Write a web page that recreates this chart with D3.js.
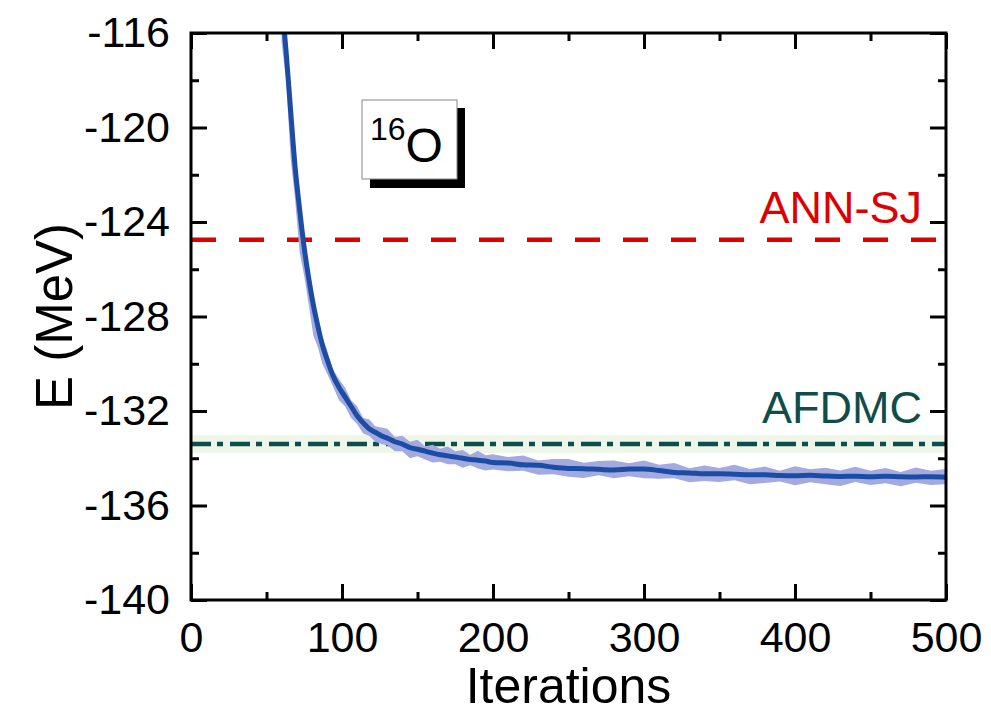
<!DOCTYPE html>
<html>
<head>
<meta charset="utf-8">
<script src="https://cdn.jsdelivr.net/npm/d3@7"></script>
<style>
  body { margin: 0; background: #fff; }
  svg { font-family: "Liberation Sans", Arial, sans-serif; }
  .ax .domain { display: none; }
  .ax line { stroke: #000; stroke-width: 3; }
  .ax text { font-size: 43px; fill: #000; }
</style>
</head>
<body>
<svg id="chart" width="991" height="713"></svg>
<script>
// iterations
var iters = [60, 63, 66, 69, 72, 75, 78, 81, 84, 87,
  90, 94, 98, 102, 106, 110, 114, 118, 122, 126,
  130, 135, 140, 145, 150, 155, 160, 165, 170, 175,
  180, 185, 190, 195, 200,
  210, 220, 230, 240, 250, 260, 270, 280, 290, 300,
  310, 320, 330, 340, 350, 360, 370, 380, 390, 400,
  410, 420, 430, 440, 450, 460, 470, 480, 490, 500];

// energy (MeV)
var energy = [-114.6, -116.8, -119.3, -121.7, -123.5, -125.1, -126.4, -127.5, -128.4, -129.2,
  -129.8, -130.5, -131.0, -131.4, -131.8, -132.2, -132.5, -132.75, -132.9, -133.05,
  -133.15, -133.3, -133.4, -133.55, -133.62, -133.7, -133.78, -133.85, -133.9, -133.95,
  -134.0, -134.05, -134.08, -134.12, -134.18,
  -134.2, -134.28, -134.3, -134.38, -134.43, -134.44, -134.47, -134.5, -134.46, -134.45,
  -134.52, -134.6, -134.62, -134.66, -134.66, -134.68, -134.7, -134.7, -134.73, -134.74,
  -134.72, -134.75, -134.77, -134.76, -134.78, -134.76, -134.78, -134.79, -134.78, -134.8];

// spread of the light band above / below the curve
var bandUp = [0.4, 0.25, 0.45, 0.25, 0.4, 0.3, 0.25, 0.4, 0.25, 0.3,
  0.4, 0.25, 0.35, 0.4, 0.25, 0.4, 0.2, 0.4, 0.25, 0.35,
  0.4, 0.2, 0.35, 0.25, 0.4, 0.2, 0.35, 0.25, 0.4, 0.25,
  0.35, 0.2, 0.4, 0.25, 0.35,
  0.25, 0.4, 0.2, 0.35, 0.4, 0.25, 0.35, 0.4, 0.25, 0.35,
  0.25, 0.4, 0.2, 0.35, 0.25, 0.4, 0.25, 0.35, 0.2, 0.4,
  0.25, 0.35, 0.25, 0.4, 0.25, 0.35, 0.2, 0.4, 0.25, 0.35];
var bandDn = [1.8, 1.2, 2.0, 1.4, 1.8, 1.2, 1.1, 1.3, 0.9, 0.8,
  0.6, 0.45, 0.55, 0.4, 0.5, 0.35, 0.45, 0.3, 0.4, 0.35,
  0.3, 0.4, 0.3, 0.45, 0.3, 0.35, 0.4, 0.3, 0.35, 0.3,
  0.4, 0.25, 0.35, 0.4, 0.3,
  0.35, 0.25, 0.4, 0.3, 0.35, 0.4, 0.25, 0.35, 0.3, 0.4,
  0.35, 0.25, 0.4, 0.3, 0.35, 0.25, 0.4, 0.35, 0.25, 0.4,
  0.3, 0.35, 0.4, 0.25, 0.35, 0.3, 0.4, 0.25, 0.35, 0.3];

// reference values
var annSJ = -124.75;
var afdmc = -133.4, afdmcErr = 0.38;

var xTicks = [0, 100, 200, 300, 400, 500];
var xMinor = [50, 150, 250, 350, 450];
var yTicks = [-140, -136, -132, -128, -124, -120, -116];
var yMinor = [-138, -134, -130, -126, -122, -118];

var L = 191, R = 946, T = 33, B = 600;
var svg = d3.select('#chart');

var x = d3.scaleLinear().domain([0, 500]).range([L, R]);
var y = d3.scaleLinear().domain([-140, -116]).range([B, T]);

svg.append('clipPath').attr('id', 'clip')
  .append('rect').attr('x', L).attr('y', T).attr('width', R - L).attr('height', B - T);

var plot = svg.append('g').attr('clip-path', 'url(#clip)');

// AFDMC error band
plot.append('rect')
  .attr('x', L).attr('width', R - L)
  .attr('y', y(afdmc + afdmcErr))
  .attr('height', y(afdmc - afdmcErr) - y(afdmc + afdmcErr))
  .attr('fill', '#eef6ea');

plot.append('line')
  .attr('x1', L).attr('x2', R)
  .attr('y1', y(annSJ)).attr('y2', y(annSJ))
  .attr('stroke', '#dd0000').attr('stroke-width', 4.5)
  .attr('stroke-dasharray', '25,23');

plot.append('line')
  .attr('x1', L).attr('x2', R)
  .attr('y1', y(afdmc)).attr('y2', y(afdmc))
  .attr('stroke', '#0f4d4a').attr('stroke-width', 4.5)
  .attr('stroke-dasharray', '20,6,6,7');

// noisy band round the curve
var band = d3.area()
  .x(function(d, i) { return x(iters[i]); })
  .y0(function(d, i) { return y(energy[i] - bandDn[i]); })
  .y1(function(d, i) { return y(energy[i] + bandUp[i]); });

plot.append('path')
  .attr('d', band(energy))
  .attr('fill', '#a3aadf');

var line = d3.line()
  .x(function(d, i) { return x(iters[i]); })
  .y(function(d) { return y(d); })
  .curve(d3.curveMonotoneX);

plot.append('path')
  .attr('d', line(energy))
  .attr('fill', 'none')
  .attr('stroke', '#1d4ca5')
  .attr('stroke-width', 5);

// axes, ticks inward on all four sides
svg.append('g').attr('class', 'ax').attr('transform', 'translate(0,' + B + ')')
  .call(d3.axisBottom(x).tickValues(xTicks).tickSizeInner(-16).tickSizeOuter(0).tickPadding(21));
svg.append('g').attr('class', 'ax').attr('transform', 'translate(0,' + B + ')')
  .call(d3.axisBottom(x).tickValues(xMinor).tickSizeInner(-8).tickSizeOuter(0).tickFormat(''));
svg.append('g').attr('class', 'ax').attr('transform', 'translate(0,' + T + ')')
  .call(d3.axisTop(x).tickValues(xTicks).tickSizeInner(-16).tickSizeOuter(0).tickFormat(''));
svg.append('g').attr('class', 'ax').attr('transform', 'translate(0,' + T + ')')
  .call(d3.axisTop(x).tickValues(xMinor).tickSizeInner(-8).tickSizeOuter(0).tickFormat(''));

svg.append('g').attr('class', 'ax').attr('transform', 'translate(' + L + ',0)')
  .call(d3.axisLeft(y).tickValues(yTicks).tickSizeInner(-16).tickSizeOuter(0).tickPadding(21)
    .tickFormat(d3.format('d')));
svg.append('g').attr('class', 'ax').attr('transform', 'translate(' + L + ',0)')
  .call(d3.axisLeft(y).tickValues(yMinor).tickSizeInner(-8).tickSizeOuter(0).tickFormat(''));
svg.append('g').attr('class', 'ax').attr('transform', 'translate(' + R + ',0)')
  .call(d3.axisRight(y).tickValues(yTicks).tickSizeInner(-16).tickSizeOuter(0).tickFormat(''));
svg.append('g').attr('class', 'ax').attr('transform', 'translate(' + R + ',0)')
  .call(d3.axisRight(y).tickValues(yMinor).tickSizeInner(-8).tickSizeOuter(0).tickFormat(''));

svg.selectAll('.ax text').text(function() { return this.textContent.replace('\u2212', '-'); });

svg.append('rect')
  .attr('x', L).attr('y', T).attr('width', R - L).attr('height', B - T)
  .attr('fill', 'none').attr('stroke', '#000').attr('stroke-width', 3);

// labels
svg.append('text')
  .attr('x', (L + R) / 2).attr('y', 703)
  .attr('text-anchor', 'middle').attr('font-size', 50)
  .text('Iterations');

svg.append('text')
  .attr('transform', 'translate(72,' + ((T + B) / 2) + ') rotate(-90)')
  .attr('text-anchor', 'middle').attr('font-size', 51)
  .text('E (MeV)');

svg.append('text')
  .attr('x', 922).attr('y', 223)
  .attr('text-anchor', 'end').attr('font-size', 45).attr('fill', '#dd0000')
  .text('ANN-SJ');

svg.append('text')
  .attr('x', 922).attr('y', 423)
  .attr('text-anchor', 'end').attr('font-size', 45).attr('fill', '#0f4d4a')
  .text('AFDMC');

// 16O box with shadow
svg.append('rect')
  .attr('x', 370).attr('y', 108).attr('width', 95).attr('height', 80)
  .attr('fill', '#000');
svg.append('rect')
  .attr('x', 362).attr('y', 100).attr('width', 95).attr('height', 79)
  .attr('fill', '#fff').attr('stroke', '#888').attr('stroke-width', 1);
var lab = svg.append('text').attr('x', 370).attr('y', 162);
lab.append('tspan').attr('font-size', 32).attr('dy', -22).text('16');
lab.append('tspan').attr('font-size', 48).attr('dy', 22).text('O');
</script>
</body>
</html>
